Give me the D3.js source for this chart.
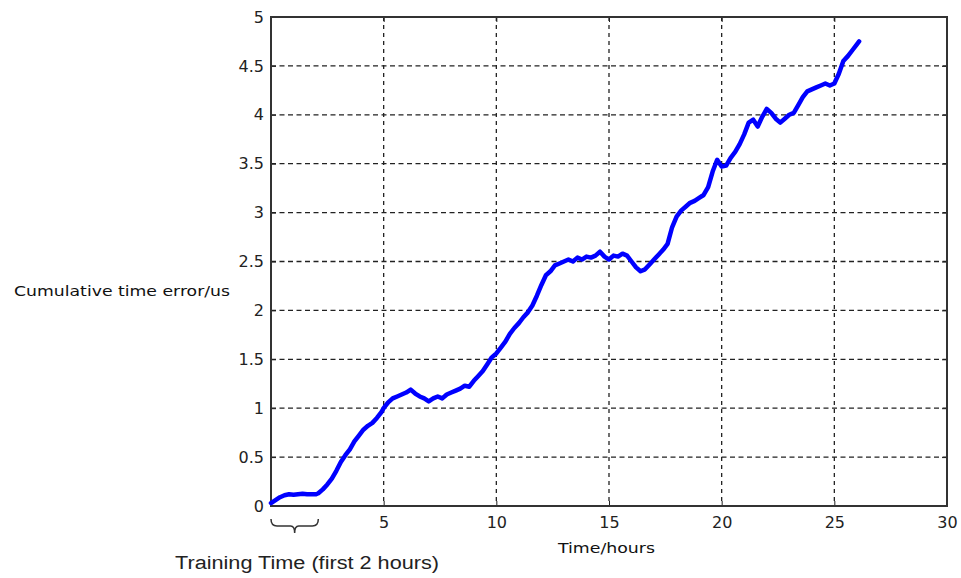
<!DOCTYPE html>
<html>
<head>
<meta charset="utf-8">
<script src="https://cdn.jsdelivr.net/npm/d3@7"></script>
<style>
  body { margin: 0; background: #fff; }
  svg { display: block; }
</style>
</head>
<body>
<div id="chart"></div>
<script>
// hours since start
var hours = [0,0.2,0.4,0.6,0.8,1.0,1.2,1.4,1.6,1.8,2.0,2.1,2.3,2.5,2.7,2.9,3.1,3.3,3.5,3.7,3.9,
  4.1,4.3,4.5,4.7,4.9,5.0,5.2,5.4,5.6,5.8,6.0,6.2,6.4,6.6,6.8,7.0,7.2,7.4,7.6,7.8,
  8.0,8.2,8.4,8.6,8.8,9.0,9.2,9.4,9.6,9.8,10.0,10.2,10.4,10.6,10.8,11.0,11.2,11.4,11.6,11.8,
  12.0,12.2,12.4,12.6,12.8,13.0,13.2,13.4,13.6,13.8,14.0,14.2,14.4,14.6,14.8,15.0,15.2,15.4,15.6,15.8,
  16.0,16.2,16.4,16.6,16.8,17.0,17.2,17.4,17.6,17.8,18.0,18.2,18.4,18.6,18.8,19.0,19.2,19.4,19.6,19.8,
  20.0,20.2,20.4,20.6,20.8,21.0,21.2,21.4,21.6,21.8,22.0,22.2,22.4,22.6,22.8,23.0,23.2,23.4,23.6,23.8,
  24.0,24.2,24.4,24.6,24.8,25.0,25.2,25.4,25.6,25.8,26.0,26.1];
// cumulative time error (us)
var errorUs = [0.03,0.06,0.09,0.11,0.12,0.115,0.12,0.125,0.12,0.12,0.12,0.13,0.17,0.22,0.28,0.36,0.45,0.52,0.58,0.66,0.72,
  0.78,0.82,0.85,0.9,0.96,1.0,1.06,1.1,1.12,1.14,1.16,1.19,1.15,1.12,1.1,1.07,1.1,1.12,1.1,1.14,
  1.16,1.18,1.2,1.23,1.22,1.28,1.33,1.38,1.45,1.52,1.56,1.62,1.68,1.76,1.82,1.87,1.93,1.98,2.05,2.15,
  2.26,2.36,2.40,2.46,2.48,2.50,2.52,2.50,2.54,2.52,2.55,2.54,2.56,2.60,2.55,2.52,2.56,2.55,2.58,2.56,
  2.50,2.44,2.40,2.42,2.47,2.52,2.57,2.62,2.68,2.85,2.96,3.02,3.06,3.10,3.12,3.15,3.18,3.26,3.42,3.54,
  3.47,3.48,3.56,3.62,3.70,3.80,3.92,3.95,3.88,3.98,4.06,4.02,3.96,3.92,3.96,4.00,4.02,4.10,4.18,4.24,
  4.26,4.28,4.30,4.32,4.30,4.32,4.42,4.55,4.60,4.66,4.72,4.75];

var xTicks = [0,5,10,15,20,25,30];
var yTicks = [0,0.5,1,1.5,2,2.5,3,3.5,4,4.5,5];

var W = 961, H = 578;
var pLeft = 271, pRight = 947, pTop = 17, pBottom = 506;

var svg = d3.select("#chart").append("svg")
  .attr("width", W)
  .attr("height", H);

var x = d3.scaleLinear().domain([0, 30]).range([pLeft, pRight]);
var y = d3.scaleLinear().domain([0, 5]).range([pBottom, pTop]);

//grid
svg.append("g").selectAll("line")
  .data(xTicks.slice(1, -1))
  .enter().append("line")
  .attr("x1", function(d){ return x(d); })
  .attr("x2", function(d){ return x(d); })
  .attr("y1", pTop).attr("y2", pBottom)
  .style("stroke", "#222").style("stroke-width", 1.3)
  .style("stroke-dasharray", "4,4");

svg.append("g").selectAll("line")
  .data(yTicks.slice(1, -1))
  .enter().append("line")
  .attr("x1", pLeft).attr("x2", pRight)
  .attr("y1", function(d){ return y(d); })
  .attr("y2", function(d){ return y(d); })
  .style("stroke", "#222").style("stroke-width", 1.3)
  .style("stroke-dasharray", "5,3.5");

//axes (ticks inward, matlab style) - x "0" hidden behind the brace
svg.append("g")
  .attr("transform", "translate(0," + pBottom + ")")
  .call(d3.axisBottom(x).tickValues(xTicks).tickSize(-5).tickPadding(11)
    .tickFormat(function(d){ return d === 0 ? "" : String(d); }));
svg.append("g")
  .attr("transform", "translate(" + pLeft + ",0)")
  .call(d3.axisLeft(y).tickValues(yTicks).tickSize(-5).tickPadding(7).tickFormat(function(d){ return String(d); }));
svg.append("g")
  .attr("transform", "translate(0," + pTop + ")")
  .call(d3.axisTop(x).tickValues(xTicks).tickSize(-5).tickFormat(""));
svg.append("g")
  .attr("transform", "translate(" + pRight + ",0)")
  .call(d3.axisRight(y).tickValues(yTicks).tickSize(-5).tickFormat(""));

svg.selectAll(".domain").remove();
svg.selectAll(".tick line").style("stroke", "#222");
svg.selectAll(".tick text")
  .style("font-family", "'DejaVu Sans', sans-serif")
  .style("font-size", "16px")
  .style("fill", "#222");

//frame
svg.append("rect")
  .attr("x", pLeft).attr("y", pTop)
  .attr("width", pRight - pLeft).attr("height", pBottom - pTop)
  .style("fill", "none").style("stroke", "#333").style("stroke-width", 2);

//data line
var line = d3.line()
  .x(function(d){ return x(d[0]); })
  .y(function(d){ return y(d[1]); });
svg.append("path")
  .datum(d3.zip(hours, errorUs))
  .attr("d", line)
  .style("fill", "none")
  .style("stroke", "#0000ff")
  .style("stroke-width", 4.5)
  .style("stroke-linejoin", "round")
  .style("stroke-linecap", "round");

//labels
svg.append("text")
  .attr("x", 14).attr("y", 296)
  .attr("textLength", 216).attr("lengthAdjust", "spacingAndGlyphs")
  .style("font-family", "'DejaVu Sans', sans-serif")
  .style("font-size", "14px").style("fill", "#111")
  .text("Cumulative time error/us");

svg.append("text")
  .attr("x", 558).attr("y", 553)
  .attr("textLength", 97).attr("lengthAdjust", "spacingAndGlyphs")
  .style("font-family", "'DejaVu Sans', sans-serif")
  .style("font-size", "14px").style("fill", "#111")
  .text("Time/hours");

svg.append("text")
  .attr("x", 175).attr("y", 569)
  .attr("textLength", 264).attr("lengthAdjust", "spacingAndGlyphs")
  .style("font-family", "'Liberation Sans', Arial, sans-serif")
  .style("font-size", "18px").style("fill", "#222")
  .text("Training Time (first 2 hours)");

//brace under training period
var bx0 = x(0), bx1 = x(2.1), bm = (bx0 + bx1) / 2;
svg.append("path")
  .attr("d", "M" + bx0 + ",519 Q" + bx0 + ",526 " + (bx0 + 6) + ",526 L" + (bm - 4) + ",526 Q" + bm + ",526 " + bm + ",533"
    + " M" + bm + ",533 Q" + bm + ",526 " + (bm + 4) + ",526 L" + (bx1 - 6) + ",526 Q" + bx1 + ",526 " + bx1 + ",519")
  .style("fill", "none").style("stroke", "#333").style("stroke-width", 1.5);
</script>
</body>
</html>
